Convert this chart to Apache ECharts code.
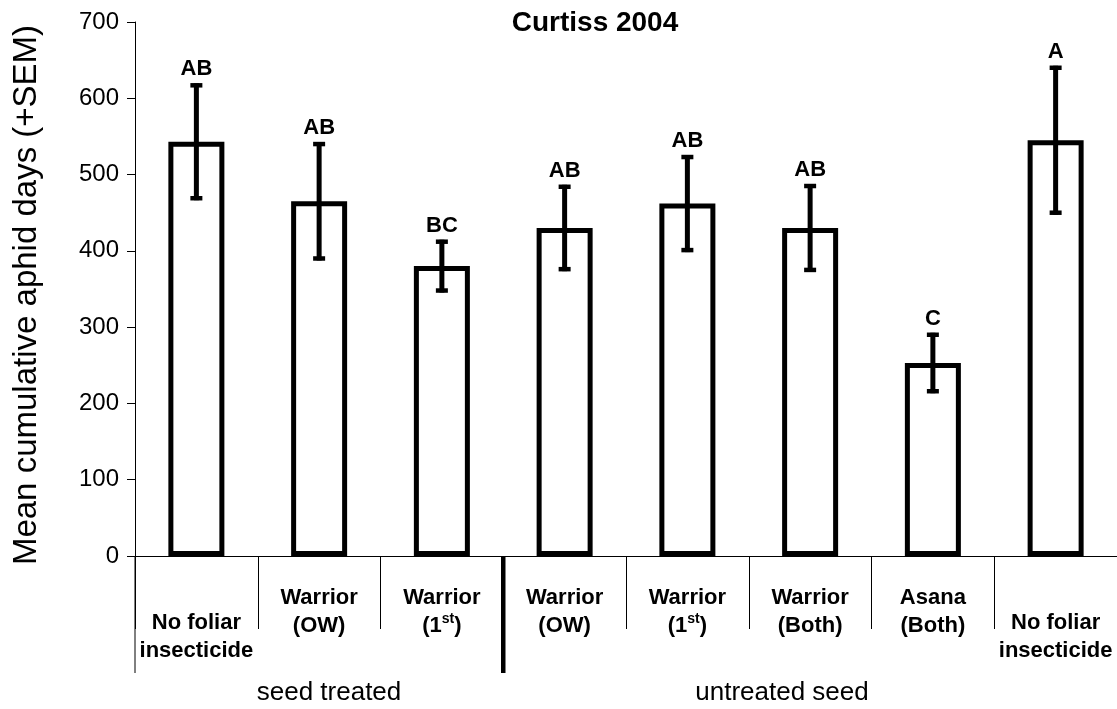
<!DOCTYPE html>
<html>
<head>
<meta charset="utf-8">
<title>Curtiss 2004</title>
<script src="https://cdn.jsdelivr.net/npm/echarts@6/dist/echarts.min.js"></script>
<style>
    html, body { margin: 0; padding: 0; background: #fff; }
    #main { width: 1117px; height: 709px; }
</style>
</head>
<body>
<div id="main"></div>
<script>
'use strict';

// treatments (x axis), "1st" gets a superscript in the formatter
var categories = [
    'No foliar\ninsecticide',
    'Warrior\n(OW)',
    'Warrior\n(1st)',
    'Warrior\n(OW)',
    'Warrior\n(1st)',
    'Warrior\n(Both)',
    'Asana\n(Both)',
    'No foliar\ninsecticide'
];
// mean cumulative aphid days and SEM
var means = [543, 465, 380, 430, 462, 430, 253, 545];
var sems = [74, 75, 32, 54, 61, 55, 37, 95];
// significance letters over each bar
var letters = ['AB', 'AB', 'BC', 'AB', 'AB', 'AB', 'C', 'A'];
var groups = ['seed treated', 'untreated seed'];
var yTicks = [0, 700, 100];

var FONT = '"Liberation Sans", Arial, sans-serif';

function catLabel(value) {
    var lines = value.split('\n');
    var out = [];
    if (lines[0] === 'No foliar') {
        out.push('{sp| }');
    }
    lines.forEach(function(l) {
        if (l.indexOf('1st') > -1) {
            out.push('{b|(1}{sup|st}{b|)}');
        } else {
            out.push('{b|' + l + '}');
        }
    });
    return out.join('\n');
}

function errorBar(params, api) {
    var i = params.dataIndex;
    var top = api.coord([api.value(0), api.value(2)]);
    var bot = api.coord([api.value(0), api.value(1)]);
    var cap = 6;
    return {
        type: 'group',
        children: [{
            type: 'line',
            shape: { x1: top[0], y1: top[1] - 2, x2: bot[0], y2: bot[1] + 2 },
            style: { stroke: '#000', lineWidth: 5 }
        }, {
            type: 'line',
            shape: { x1: top[0] - cap, y1: top[1], x2: top[0] + cap, y2: top[1] },
            style: { stroke: '#000', lineWidth: 4.5 }
        }, {
            type: 'line',
            shape: { x1: bot[0] - cap, y1: bot[1], x2: bot[0] + cap, y2: bot[1] },
            style: { stroke: '#000', lineWidth: 4.5 }
        }, {
            type: 'text',
            x: top[0],
            y: top[1] - 5,
            style: {
                text: letters[i],
                fill: '#000',
                font: 'bold 22px ' + FONT,
                textAlign: 'center',
                textVerticalAlign: 'bottom'
            }
        }]
    };
}

var myChart = echarts.init(document.getElementById('main'));

var option = {
    backgroundColor: '#fff',
    animation: false,
    textStyle: { fontFamily: FONT, color: '#000' },
    grid: { left: 135, right: -4, top: 22, bottom: 153 },
    xAxis: {
        type: 'category',
        data: categories,
        axisLine: { lineStyle: { color: '#000', width: 1 } },
        axisTick: { show: true, interval: 0, length: 73, lineStyle: { color: '#000', width: 1 } },
        axisLabel: {
            interval: 0,
            margin: 28,
            formatter: catLabel,
            rich: {
                b: { fontSize: 22, fontWeight: 'bold', lineHeight: 28, color: '#000', fontFamily: FONT },
                sup: { fontSize: 14, fontWeight: 'bold', lineHeight: 12, verticalAlign: 'top', color: '#000', fontFamily: FONT },
                sp: { fontSize: 22, lineHeight: 25, fontFamily: FONT }
            }
        }
    },
    yAxis: {
        type: 'value',
        min: yTicks[0],
        max: yTicks[1],
        interval: yTicks[2],
        name: 'Mean cumulative aphid days (+SEM)',
        nameLocation: 'middle',
        nameRotate: 90,
        nameGap: 92,
        nameTextStyle: { fontSize: 33, color: '#000', fontFamily: FONT, padding: [0, 12, 0, 0] },
        axisLine: { show: true, lineStyle: { color: '#000', width: 1 } },
        axisTick: { show: true, length: 8, lineStyle: { color: '#000' } },
        axisLabel: { fontSize: 24, color: '#000', margin: 16 },
        splitLine: { show: false }
    },
    series: [{
        name: 'mean',
        type: 'bar',
        data: means,
        barWidth: 56,
        itemStyle: { color: '#fff', borderColor: '#000', borderWidth: 5 },
        z: 2
    }, {
        name: 'sem',
        type: 'custom',
        renderItem: errorBar,
        data: means.map(function(m, i) {
            return [i, m - sems[i], m + sems[i]];
        }),
        z: 3
    }]
};
myChart.setOption(option);

// separators below the axis, title and group names
function decorate() {
    var c0 = myChart.convertToPixel({ xAxisIndex: 0 }, 0);
    var c1 = myChart.convertToPixel({ xAxisIndex: 0 }, 1);
    var c2 = myChart.convertToPixel({ xAxisIndex: 0 }, 2);
    var c3 = myChart.convertToPixel({ xAxisIndex: 0 }, 3);
    var y0 = myChart.convertToPixel({ yAxisIndex: 0 }, 0);
    var leftEdge = c0 - (c1 - c0) / 2;
    var split = (c2 + c3) / 2;
    myChart.setOption({
        graphic: [{
            type: 'line',
            shape: { x1: leftEdge, y1: y0, x2: leftEdge, y2: y0 + 117 },
            style: { stroke: '#000', lineWidth: 1 }
        }, {
            type: 'line',
            shape: { x1: split, y1: y0, x2: split, y2: y0 + 117 },
            style: { stroke: '#000', lineWidth: 4.5 }
        }, {
            type: 'text',
            x: 595,
            y: 23,
            style: {
                text: 'Curtiss 2004',
                font: 'bold 28px ' + FONT,
                fill: '#000',
                textAlign: 'center',
                textVerticalAlign: 'middle'
            }
        }, {
            type: 'text',
            x: 329,
            y: 693,
            style: {
                text: groups[0],
                font: '26px ' + FONT,
                fill: '#000',
                textAlign: 'center',
                textVerticalAlign: 'middle'
            }
        }, {
            type: 'text',
            x: 782,
            y: 693,
            style: {
                text: groups[1],
                font: '26px ' + FONT,
                fill: '#000',
                textAlign: 'center',
                textVerticalAlign: 'middle'
            }
        }]
    });
}
decorate();

window.addEventListener('resize', function() {
    myChart.resize();
    decorate();
});
</script>
</body>
</html>
